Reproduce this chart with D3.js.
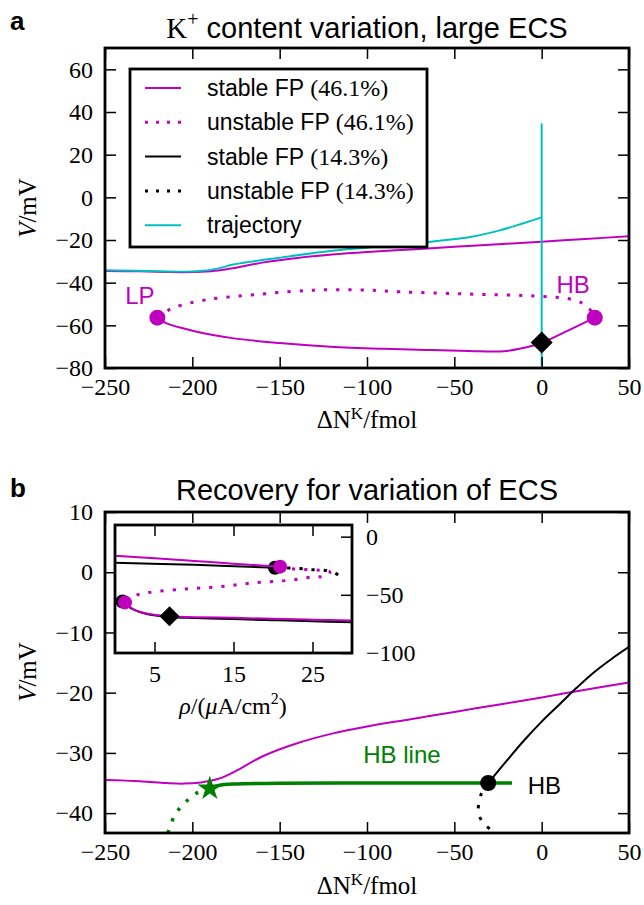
<!DOCTYPE html>
<html>
<head>
<meta charset="utf-8">
<script src="https://cdn.jsdelivr.net/npm/d3@7"></script>
<style>
  body { margin: 0; background: #fff; }
  .tick text { font-family: "Liberation Serif", serif; font-size: 24px; fill: #000; }
  .tick line { stroke: #000; stroke-width: 1.5; }
  .sans { font-family: "Liberation Sans", Arial, sans-serif; }
  .serif { font-family: "Liberation Serif", serif; }
</style>
</head>
<body>
<script>
// ---- data ----
// stable fixed point, 46.1% (upper branch) - same curve in both panels
const stable46Upper = [[-250,-34.5],[-230,-34.7],[-215,-35.0],[-205,-35.1],[-195,-34.9],[-185,-34.3],
  [-175,-33.0],[-160,-30.6],[-140,-28.4],[-120,-26.8],[-100,-25.6],[-75,-24.4],[-50,-23.2],
  [-25,-22.0],[0,-20.8],[25,-19.5],[50,-18.3]]
const stable46Lower = [[-220,-56.4],[-215,-59],[-200,-62.5],[-177,-66],[-150,-68.3],[-121,-70],
  [-90,-71],[-62,-71.6],[-35,-72.2],[-20,-72],[-10,-70.5],[0,-68.2],[15,-62.5],[30.4,-56.4]]
const unstable46 = [[-220,-56.4],[-215,-53.5],[-210,-51.5],[-192,-48],[-165,-45.7],[-130,-43.5],
  [-100,-43.5],[-81,-44.3],[-43,-45.3],[0,-46.4],[18,-48],[26,-51],[30.4,-56.4]]
const trajectory = [[-250,-34.2],[-220,-34.6],[-197.5,-34.7],[-185,-33.3],[-176.6,-31.5],[-150,-28.3],
  [-121,-25.2],[-100,-23.6],[-66,-21],[-40,-18.5],[-24,-15.5],[-10,-12],[0,-9.4]]
const trajectorySpike = [[0,-9.4],[0,34.6],[0,-79]]
const bifA = [[-220,-56.4],[30.4,-56.4]]     // LP, HB
const startA = [[0,-68]]

// panel b
const stable14 = [[-30.6,-35.0],[-20,-31.3],[-10,-27.9],[0,-24.8],[10,-22.0],[20,-19.2],
  [30,-16.6],[40,-14.4],[50,-12.4]]
const unstable14 = [[-30.6,-35.0],[-34,-36.4],[-35.5,-37.8],[-36.3,-39.8],[-33.8,-41.5],[-29,-42.8],[-27,-43.3]]
const hbLine = [[-190,-35.9],[-185,-35.4],[-175,-35.15],[-150,-35.05],[-100,-35.0],[-50,-35.0],[-17,-35.0]]
const hbLineDotted = [[-190,-35.9],[-197,-36.6],[-204,-38.2],[-210,-40.3],[-214,-43.3]]
const hbPoint = [[-30.6,-35.0]]
const starPoint = [[-190,-35.9]]

// inset (rho vs V)
const insetStable46Up = [[0,-16.4],[5,-18.6],[10,-20.9],[15,-23.2],[20.9,-25.8]]
const insetStable14Up = [[0,-22.4],[10,-24.2],[20.25,-26.7]]
const insetUnstable46 = [[20.9,-25.8],[22.2,-27.4],[23.8,-28.2],[25.9,-28.8],[27.2,-30.3],[26.8,-34],
  [25.1,-34.6],[22.2,-37.4],[17.7,-39.6],[13.3,-43],[8.9,-45],[4.4,-47.9],[2.75,-50.2],[1.27,-56.5]]
const insetUnstable14 = [[20.25,-26.7],[23.4,-27.4],[24.7,-28.3],[26.4,-28.8],[27.6,-30.3],[28.3,-33.2]]
const insetStable46Low = [[1.27,-56.5],[2.3,-62.2],[4,-66],[6.9,-68.5],[10,-69.2],[15,-69.8],
  [20,-70.6],[25,-71.4],[30,-72.1]]
const insetStable14Low = [[1.0,-56.3],[2.3,-62.6],[4,-66.5],[6.9,-69],[10,-69.9],[15,-70.8],
  [20,-71.8],[25,-72.8],[30,-73.6]]
const insetBif14 = [[20.25,-26.7],[0.95,-55.8]]
const insetBif46 = [[20.9,-25.8],[1.27,-56.5]]
const insetStart = [[6.9,-68.5]]

const xTicks = [-250,-200,-150,-100,-50,0,50]
const yTicksA = [-80,-60,-40,-20,0,20,40,60]
const yTicksB = [-40,-30,-20,-10,0,10]
const xTicksInset = [5,15,25]
const yTicksInset = [-100,-50,0]

const legendItems = [
  ['stable FP ', '(46.1%)', '#bf00bf', null],
  ['unstable FP ', '(46.1%)', '#bf00bf', '3,8'],
  ['stable FP ', '(14.3%)', '#000', null],
  ['unstable FP ', '(14.3%)', '#000', '3,8'],
  ['trajectory', '', '#00bfbf', null]
]

const M = '#bf00bf', C = '#00bfbf', G = '#008000'
const dots = '3.2,9'
const minus = d => d < 0 ? '\u2212' + (-d) : String(d)

const svg = d3.select('body').append('svg').attr('width', 644).attr('height', 905)

// ---- helpers ----
function frame(g, x, y, xt, yt, labels) {
  const [x0, x1] = x.range(), [y0, y1] = y.range()
  const bottom = g.append('g').attr('transform', `translate(0,${y0})`)
    .call(d3.axisBottom(x).tickValues(xt).tickSize(-11).tickPadding(10).tickFormat(labels.x ? minus : ''))
  const top = g.append('g').attr('transform', `translate(0,${y1})`)
    .call(d3.axisTop(x).tickValues(xt).tickSize(-11).tickFormat(''))
  const left = g.append('g').attr('transform', `translate(${x0},0)`)
    .call(d3.axisLeft(y).tickValues(labels.left ? yt : []).tickSize(-11).tickPadding(12).tickFormat(minus))
  const right = g.append('g').attr('transform', `translate(${x1},0)`)
    .call(d3.axisRight(y).tickValues(yt).tickSize(-11).tickPadding(14).tickFormat(labels.right ? minus : ''))
  ;[bottom, top, left, right].forEach(a => a.select('.domain').remove())
  g.append('rect').attr('x', x0).attr('y', y1).attr('width', x1 - x0).attr('height', y0 - y1)
    .attr('fill', 'none').attr('stroke', '#000').attr('stroke-width', 2.8)
}

function curve(g, data, x, y, color, opts = {}) {
  const line = d3.line().x(d => x(d[0])).y(d => y(d[1]))
    .curve(opts.linear ? d3.curveLinear : d3.curveCatmullRom.alpha(0.5))
  g.append('path').datum(data).attr('d', line)
    .attr('fill', 'none').attr('stroke', color)
    .attr('stroke-width', opts.width || 2)
    .attr('stroke-dasharray', opts.dash || null)
}

function circles(g, data, x, y, color, r) {
  g.selectAll(null).data(data).enter().append('circle')
    .attr('cx', d => x(d[0])).attr('cy', d => y(d[1])).attr('r', r).attr('fill', color)
}

function diamonds(g, data, x, y, s) {
  g.selectAll(null).data(data).enter().append('path')
    .attr('d', `M0,${-s}L${s},0L0,${s}L${-s},0Z`)
    .attr('transform', d => `translate(${x(d[0])},${y(d[1])})`).attr('fill', '#000')
}

function clip(id, x, y) {
  const [x0, x1] = x.range(), [y0, y1] = y.range()
  svg.append('clipPath').attr('id', id).append('rect')
    .attr('x', x0).attr('y', y1).attr('width', x1 - x0).attr('height', y0 - y1)
}

// ---- panel a ----
const xA = d3.scaleLinear().domain([-250, 50]).range([105, 629])
const yA = d3.scaleLinear().domain([-80, 70]).range([368, 48])
clip('clipA', xA, yA)
const gA = svg.append('g')
const pA = gA.append('g').attr('clip-path', 'url(#clipA)')
curve(pA, stable46Upper, xA, yA, M)
curve(pA, stable46Lower, xA, yA, M)
curve(pA, unstable46, xA, yA, M, { dash: dots, width: 3 })
curve(pA, trajectory, xA, yA, C)
curve(pA, trajectorySpike, xA, yA, C, { linear: true })
circles(pA, bifA, xA, yA, M, 8)
diamonds(pA, startA, xA, yA, 11)
frame(gA, xA, yA, xTicks, yTicksA, { x: true, left: true })

gA.append('text').attr('class', 'sans').attr('x', xA(-230)).attr('y', yA(-46)).attr('dy', '0.35em')
  .attr('text-anchor', 'middle').attr('font-size', 24).attr('fill', M).text('LP')
gA.append('text').attr('class', 'sans').attr('x', xA(18)).attr('y', yA(-41)).attr('dy', '0.35em')
  .attr('text-anchor', 'middle').attr('font-size', 24).attr('fill', M).text('HB')

// legend
const lg = gA.append('g')
lg.append('rect').attr('x', 130).attr('y', 69).attr('width', 297).attr('height', 178)
  .attr('fill', '#fff').attr('stroke', '#000').attr('stroke-width', 2.8)
legendItems.forEach((it, i) => {
  const cy = 88 + i * 34.3
  lg.append('line').attr('x1', 145).attr('x2', 181).attr('y1', cy).attr('y2', cy)
    .attr('stroke', it[2]).attr('stroke-width', it[3] ? 3 : 2).attr('stroke-dasharray', it[3])
  const t = lg.append('text').attr('x', 207).attr('y', cy).attr('dy', '0.35em').attr('font-size', 23)
  t.append('tspan').attr('class', 'sans').text(it[0])
  t.append('tspan').attr('class', 'serif').attr('font-size', 24).text(it[1])
})

// titles and labels a
svg.append('text').attr('class', 'sans').attr('x', 10).attr('y', 30).attr('font-size', 26)
  .attr('font-weight', 'bold').text('a')
const tA = svg.append('text').attr('x', 367).attr('y', 38).attr('text-anchor', 'middle').attr('font-size', 29)
tA.append('tspan').attr('class', 'serif').text('K')
tA.append('tspan').attr('class', 'serif').attr('font-size', 20).attr('dy', -12).text('+')
tA.append('tspan').attr('class', 'sans').attr('dy', 12).text(' content variation, large ECS')

function xLabel(yPos) {
  const t = svg.append('text').attr('class', 'serif').attr('x', 367).attr('y', yPos)
    .attr('text-anchor', 'middle').attr('font-size', 25)
  t.append('tspan').text('\u0394N')
  t.append('tspan').attr('font-size', 17).attr('dy', -9).text('K')
  t.append('tspan').attr('dy', 9).text('/fmol')
}
function yLabel(xPos, yPos) {
  const t = svg.append('text').attr('class', 'serif').attr('font-size', 25).attr('text-anchor', 'middle')
    .attr('transform', `translate(${xPos},${yPos}) rotate(-90)`)
  t.append('tspan').attr('font-style', 'italic').text('V')
  t.append('tspan').text('/mV')
}
xLabel(428)
yLabel(36, 208)

// ---- panel b ----
const xB = d3.scaleLinear().domain([-250, 50]).range([105, 629])
const yB = d3.scaleLinear().domain([-43.3, 10]).range([833, 512])
clip('clipB', xB, yB)
const gB = svg.append('g')
const pB = gB.append('g').attr('clip-path', 'url(#clipB)')
curve(pB, stable46Upper, xB, yB, M)
curve(pB, stable14, xB, yB, '#000')
curve(pB, unstable14, xB, yB, '#000', { dash: dots, width: 3 })
curve(pB, hbLineDotted, xB, yB, G, { dash: dots, width: 3.5 })
curve(pB, hbLine, xB, yB, G, { width: 3.5 })
circles(pB, hbPoint, xB, yB, '#000', 8)
pB.selectAll(null).data(starPoint).enter().append('path')
  .attr('d', d3.symbol().type(d3.symbolStar).size(190))
  .attr('transform', d => `translate(${xB(d[0])},${yB(d[1])})`).attr('fill', G)
frame(gB, xB, yB, xTicks, yTicksB, { x: true, left: true })

gB.append('text').attr('class', 'sans').attr('x', xB(-80)).attr('y', yB(-30.3)).attr('dy', '0.35em')
  .attr('text-anchor', 'middle').attr('font-size', 24).attr('fill', G).text('HB line')
gB.append('text').attr('class', 'sans').attr('x', xB(-8)).attr('y', yB(-35.4)).attr('dy', '0.35em')
  .attr('font-size', 24).attr('fill', '#000').text('HB')

// inset
const xI = d3.scaleLinear().domain([0, 30]).range([115, 352])
const yI = d3.scaleLinear().domain([-100, 10]).range([653, 525])
clip('clipI', xI, yI)
const gI = svg.append('g')
gI.append('rect').attr('x', 115).attr('y', 525).attr('width', 237).attr('height', 128).attr('fill', '#fff')
const pI = gI.append('g').attr('clip-path', 'url(#clipI)')
curve(pI, insetStable14Up, xI, yI, '#000')
curve(pI, insetStable14Low, xI, yI, '#000')
curve(pI, insetUnstable14, xI, yI, '#000', { dash: dots, width: 3 })
circles(pI, insetBif14, xI, yI, '#000', 7)
curve(pI, insetStable46Up, xI, yI, M)
curve(pI, insetStable46Low, xI, yI, M)
curve(pI, insetUnstable46, xI, yI, M, { dash: dots, width: 3 })
circles(pI, insetBif46, xI, yI, M, 7)
diamonds(pI, insetStart, xI, yI, 10)
gI.append('g').attr('transform', 'translate(0,653)')
  .call(d3.axisBottom(xI).tickValues(xTicksInset).tickSize(-11).tickPadding(12))
  .select('.domain').remove()
gI.append('g').attr('transform', 'translate(0,525)')
  .call(d3.axisTop(xI).tickValues(xTicksInset).tickSize(-11).tickFormat(''))
  .select('.domain').remove()
gI.append('g').attr('transform', 'translate(352,0)')
  .call(d3.axisRight(yI).tickValues(yTicksInset).tickSize(-11).tickPadding(14).tickFormat(minus))
  .select('.domain').remove()
gI.append('rect').attr('x', 115).attr('y', 525).attr('width', 237).attr('height', 128)
  .attr('fill', 'none').attr('stroke', '#000').attr('stroke-width', 2.8)
const tI = gI.append('text').attr('class', 'serif').attr('x', 233).attr('y', 714)
  .attr('text-anchor', 'middle').attr('font-size', 24)
tI.append('tspan').attr('font-style', 'italic').text('\u03c1')
tI.append('tspan').text('/(')
tI.append('tspan').attr('font-style', 'italic').text('\u03bc')
tI.append('tspan').text('A/cm')
tI.append('tspan').attr('font-size', 16).attr('dy', -10).text('2')
tI.append('tspan').attr('dy', 10).text(')')

svg.append('text').attr('class', 'sans').attr('x', 10).attr('y', 497).attr('font-size', 26)
  .attr('font-weight', 'bold').text('b')
svg.append('text').attr('class', 'sans').attr('x', 367).attr('y', 500).attr('text-anchor', 'middle')
  .attr('font-size', 29).text('Recovery for variation of ECS')
xLabel(894)
yLabel(36, 672)
</script>
</body>
</html>
